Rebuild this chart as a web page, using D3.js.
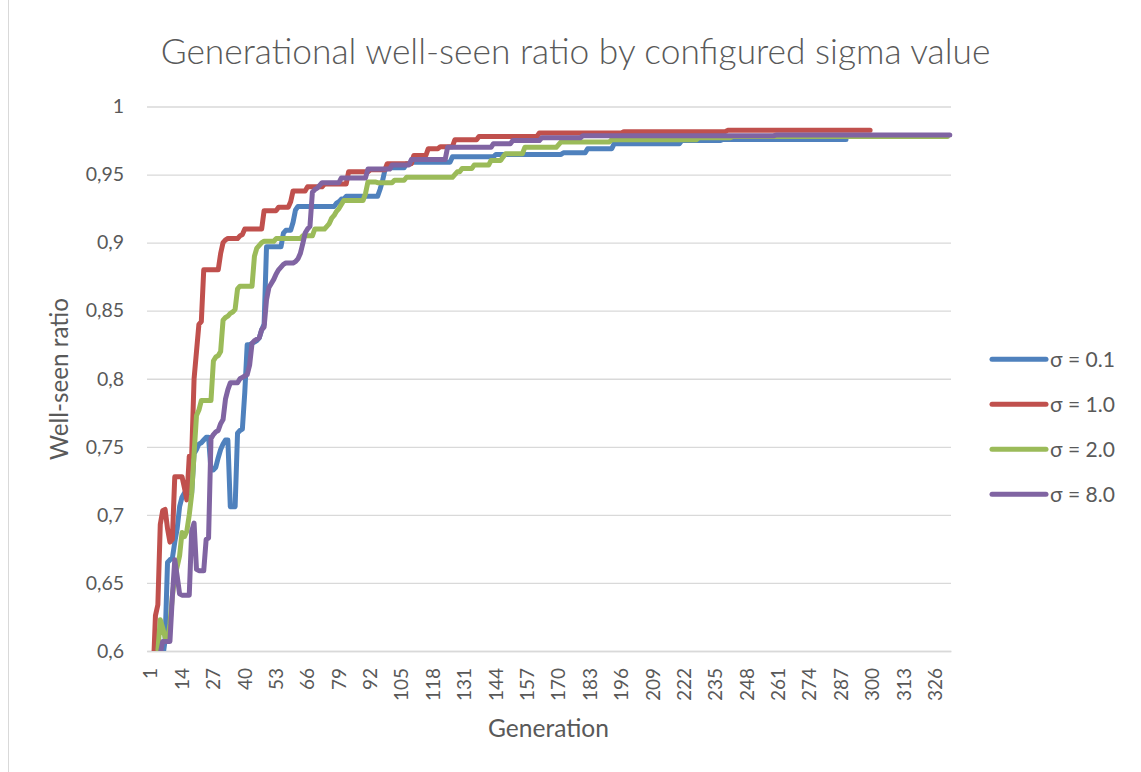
<!DOCTYPE html>
<html><head><meta charset="utf-8">
<script src="https://cdn.jsdelivr.net/npm/d3@7"></script>
<style>
body{margin:0;background:#fff}
svg{display:block}
text{font-family:Lato,"Open Sans","DejaVu Sans",sans-serif;fill:#595959}
</style>
</head><body>
<svg id="chart" width="1141" height="772"></svg>
<script>
// ---------------- data ----------------
const title = "Generational well-seen ratio by configured sigma value";
const xTitle = "Generation";
const yTitle = "Well-seen ratio";
const generationCount = 333;
const xTickLabels = [1,14,27,40,53,66,79,92,105,118,131,144,157,170,183,196,209,222,235,248,261,274,287,300,313,326];
const yTickValues = [0.6,0.65,0.7,0.75,0.8,0.85,0.9,0.95,1];
const seriesNames = ["σ = 0.1","σ = 1.0","σ = 2.0","σ = 8.0"];
const seriesColors = ["#4F81BD","#C0504D","#9BBB59","#8064A2"];
const seriesLastGeneration = [290, 300, 332, 333];
// runs: [first generation, value]; value holds until the next run starts
const sigma01Runs = [[1,0.55],[2,0.56],[3,0.57],[4,0.58],[5,0.585],[6,0.59],[7,0.595],[8,0.608],[9,0.665],[10,0.667],[11,0.668],[12,0.68],[13,0.69],[14,0.706],[15,0.713],[16,0.716],[20,0.745],[21,0.748],[22,0.752],[23,0.753],[24,0.755],[25,0.757],[27,0.733],[29,0.735],[30,0.742],[31,0.748],[32,0.752],[33,0.755],[35,0.706],[38,0.76],[39,0.762],[40,0.763],[41,0.79],[42,0.825],[44,0.826],[45,0.827],[46,0.828],[47,0.83],[48,0.836],[49,0.84],[50,0.897],[57,0.907],[58,0.909],[61,0.915],[62,0.924],[63,0.9265],[79,0.929],[80,0.93],[81,0.932],[83,0.934],[97,0.939],[98,0.945],[99,0.953],[100,0.955],[108,0.958],[110,0.959],[127,0.963],[145,0.9648],[173,0.966],[183,0.969],[194,0.9727],[222,0.975],[239,0.9758]];
const sigma10Runs = [[1,0.55],[2,0.565],[3,0.58],[4,0.626],[5,0.634],[6,0.693],[7,0.703],[8,0.704],[9,0.69],[10,0.68],[11,0.682],[12,0.728],[16,0.72],[17,0.711],[18,0.743],[20,0.80],[21,0.82],[22,0.84],[23,0.842],[24,0.88],[31,0.892],[32,0.9],[33,0.902],[34,0.903],[39,0.905],[40,0.906],[41,0.91],[49,0.9235],[55,0.926],[60,0.93],[61,0.938],[67,0.941],[74,0.943],[84,0.952],[93,0.9535],[100,0.958],[111,0.964],[117,0.969],[122,0.9705],[128,0.9756],[138,0.978],[163,0.9805],[198,0.9815],[241,0.9825]];
const sigma20Runs = [[1,0.55],[2,0.56],[3,0.57],[4,0.585],[5,0.6],[6,0.623],[7,0.617],[8,0.61],[9,0.607],[10,0.62],[11,0.64],[12,0.655],[13,0.662],[14,0.67],[15,0.687],[16,0.684],[17,0.688],[18,0.7],[19,0.715],[20,0.745],[21,0.773],[22,0.777],[23,0.784],[28,0.813],[29,0.816],[30,0.817],[31,0.82],[32,0.843],[33,0.845],[34,0.846],[35,0.848],[36,0.849],[37,0.851],[38,0.866],[39,0.868],[45,0.89],[46,0.896],[47,0.898],[48,0.9],[49,0.901],[54,0.903],[65,0.905],[70,0.91],[75,0.912],[76,0.914],[77,0.918],[78,0.92],[79,0.923],[80,0.925],[81,0.928],[82,0.931],[91,0.936],[92,0.9446],[96,0.944],[103,0.9458],[108,0.948],[128,0.95],[129,0.952],[131,0.9544],[136,0.957],[143,0.9604],[148,0.963],[149,0.9653],[157,0.97],[171,0.972],[172,0.974],[193,0.9756],[229,0.977],[243,0.978]];
const sigma80Runs = [[1,0.55],[2,0.56],[3,0.57],[4,0.58],[5,0.585],[6,0.598],[7,0.607],[11,0.64],[12,0.667],[13,0.655],[14,0.642],[15,0.641],[19,0.688],[20,0.694],[21,0.66],[22,0.659],[25,0.682],[26,0.683],[27,0.756],[28,0.759],[29,0.761],[30,0.762],[31,0.767],[32,0.77],[33,0.785],[34,0.792],[35,0.797],[39,0.8],[40,0.801],[41,0.802],[42,0.803],[43,0.81],[44,0.826],[45,0.828],[46,0.829],[47,0.83],[48,0.836],[49,0.838],[50,0.858],[51,0.867],[52,0.87],[53,0.873],[54,0.877],[55,0.88],[56,0.882],[57,0.884],[58,0.885],[62,0.886],[63,0.888],[64,0.892],[65,0.899],[66,0.907],[67,0.91],[68,0.912],[69,0.937],[70,0.939],[71,0.94],[72,0.942],[73,0.944],[81,0.9475],[92,0.954],[102,0.957],[110,0.961],[125,0.97],[144,0.9727],[152,0.975],[164,0.977],[181,0.9785],[261,0.979]];
const seriesRuns = [sigma01Runs, sigma10Runs, sigma20Runs, sigma80Runs];

// expand runs into one point per generation
function expandRuns(runs, last){
  const pts = [];
  for(let i=0;i<runs.length;i++){
    const end = i+1<runs.length ? runs[i+1][0]-1 : last;
    for(let g=runs[i][0]; g<=end; g++) pts.push({g:g, v:runs[i][1]});
  }
  return pts;
}
const categories = d3.range(1, generationCount+1);
const series = seriesRuns.map((r,i)=>({name:seriesNames[i], color:seriesColors[i], points:expandRuns(r, seriesLastGeneration[i])}));

// ---------------- layout ----------------
const plot = {left:147, right:951, top:106.5, bottom:651};
const svg = d3.select("#chart");
const x = d3.scaleBand().domain(categories).range([plot.left, plot.right]).paddingInner(0).paddingOuter(0);
const bw = x.bandwidth();
const y = d3.scaleLinear().domain([0.6,1]).range([plot.bottom, plot.top]);
const locale = d3.formatLocale({decimal:",", thousands:".", grouping:[3], currency:["",""]});
const fmt = locale.format("~g");

function fitWidth(sel, target){
  const n = sel.node();
  const fs = parseFloat(sel.attr("font-size"));
  const w = n.getComputedTextLength();
  if(w>0) sel.attr("font-size", fs*target/w);
}

// chart border (left edge visible)
svg.append("line").attr("x1",8.5).attr("x2",8.5).attr("y1",0).attr("y2",772)
  .attr("stroke","#d9d9d9").attr("stroke-width",1);

// y axis with gridlines
const yAxis = svg.append("g").attr("transform",`translate(${plot.left},0)`)
  .call(d3.axisLeft(y).tickValues(yTickValues).tickSize(-(plot.right-plot.left)).tickPadding(23).tickFormat(fmt));
yAxis.select(".domain").remove();
yAxis.selectAll(".tick line").attr("stroke","#d9d9d9").attr("stroke-width",1.3);
yAxis.selectAll(".tick text").attr("font-size",19.5).attr("font-family",null).attr("fill","#595959");

// x axis
const xAxis = svg.append("g").attr("transform",`translate(0,${plot.bottom})`)
  .call(d3.axisBottom(x).tickValues(xTickLabels).tickSize(0).tickSizeOuter(0));
xAxis.select(".domain").attr("stroke","#d9d9d9").attr("stroke-width",1.3);
const xfs = 19;
xAxis.selectAll(".tick text").attr("font-size",xfs).attr("font-family",null).attr("fill","#595959")
  .attr("transform","rotate(-90)").attr("text-anchor","end")
  .attr("x",-17).attr("y",0).attr("dy",(xfs*0.35+2.5)+"px");

// clip
svg.append("clipPath").attr("id","plotclip").append("rect")
  .attr("x",plot.left).attr("y",plot.top-10).attr("width",plot.right-plot.left+10).attr("height",plot.bottom-plot.top+10);

const line = d3.line().x(d=>x(d.g)+bw/2).y(d=>y(d.v));
svg.append("g").attr("clip-path","url(#plotclip)").selectAll("path").data(series).join("path")
  .attr("d",d=>line(d.points)).attr("fill","none").attr("stroke",d=>d.color)
  .attr("stroke-width",5).attr("stroke-linejoin","round").attr("stroke-linecap","round");

// title
const t = svg.append("text").attr("x",575.5).attr("y",63.5).attr("text-anchor","middle")
  .attr("font-size",32).attr("font-weight",300).text(title);
fitWidth(t, 830);

// axis titles
const xt = svg.append("text").attr("x",548.5).attr("y",728).attr("dy","0.35em").attr("text-anchor","middle")
  .attr("font-size",21).text(xTitle);
fitWidth(xt, 121);
const yt = svg.append("text").attr("transform","translate(60,379) rotate(-90)").attr("dy","0.35em").attr("text-anchor","middle")
  .attr("font-size",21).text(yTitle);
fitWidth(yt, 162);

// legend
const lg = svg.append("g").selectAll("g").data(series).join("g")
  .attr("transform",(d,i)=>`translate(0,${359.3+i*45})`);
lg.append("line").attr("x1",992).attr("x2",1046).attr("y1",0).attr("y2",0)
  .attr("stroke",d=>d.color).attr("stroke-width",5).attr("stroke-linecap","round");
const lt = lg.append("text").attr("x",1050).attr("dy","0.35em").attr("font-size",20).text(d=>d.name);
fitWidth(d3.select(lt.nodes()[0]), 65);
const lfs = d3.select(lt.nodes()[0]).attr("font-size");
lt.attr("font-size",lfs);
</script>
</body></html>
